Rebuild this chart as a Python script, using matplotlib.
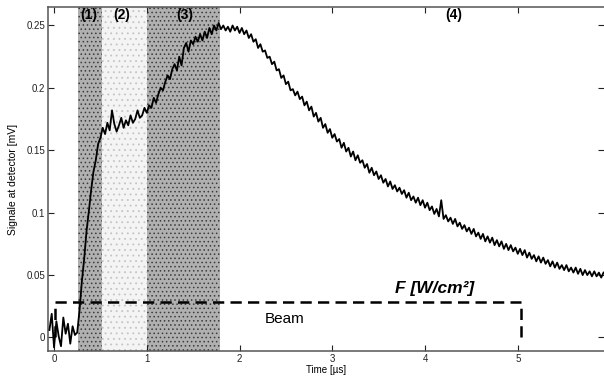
import numpy as np
import matplotlib
matplotlib.use("Agg")
import matplotlib.pyplot as plt

plt.rcParams["font.family"] = ["Liberation Sans", "DejaVu Sans"]

DT = 0.025
seg_pre = (-0.05, [0.006, 0.019, -0.008, 0.013, 0.001, -0.007, 0.016, 0.003,
                   0.011, -0.005, 0.009, 0.002])
seg_rise = (0.25, [0.004, 0.022, 0.045, 0.063, 0.085, 0.101, 0.118, 0.133,
                   0.142, 0.155, 0.160, 0.168, 0.163, 0.172, 0.166, 0.182,
                   0.171, 0.165, 0.170, 0.176, 0.168, 0.174, 0.170, 0.178,
                   0.172, 0.175, 0.182, 0.176, 0.178, 0.184])
seg_1us = (1.0, [0.180, 0.186, 0.184, 0.192, 0.188, 0.195, 0.200, 0.198,
                 0.205, 0.210, 0.207, 0.215, 0.219, 0.214, 0.225, 0.218,
                 0.232, 0.236, 0.229, 0.238, 0.235, 0.241, 0.237, 0.243,
                 0.238, 0.245, 0.240, 0.248, 0.243, 0.250, 0.246, 0.252,
                 0.247, 0.250, 0.246, 0.249, 0.245, 0.250, 0.246, 0.249])
seg_2us = (2.0, [0.244, 0.248, 0.243, 0.246, 0.240, 0.243, 0.237, 0.239,
                 0.232, 0.235, 0.229, 0.230, 0.224, 0.225, 0.219, 0.221,
                 0.214, 0.215, 0.208, 0.210, 0.203, 0.205, 0.198, 0.199,
                 0.194, 0.197, 0.191, 0.193, 0.186, 0.189, 0.182, 0.185,
                 0.177, 0.180, 0.173, 0.176, 0.168, 0.171, 0.164, 0.167])
seg_3us = (3.0, [0.160, 0.163, 0.157, 0.159, 0.152, 0.156, 0.149, 0.152,
                 0.145, 0.149, 0.142, 0.146, 0.140, 0.142, 0.136, 0.139,
                 0.132, 0.136, 0.130, 0.133, 0.127, 0.130, 0.124, 0.127,
                 0.121, 0.125, 0.119, 0.122, 0.117, 0.120, 0.115, 0.118,
                 0.112, 0.116, 0.110, 0.113, 0.108, 0.112, 0.106, 0.110])
seg_4us = (4.0, [0.104, 0.108, 0.102, 0.105, 0.099, 0.103, 0.097, 0.110,
                 0.095, 0.098, 0.093, 0.096, 0.091, 0.095, 0.089, 0.092,
                 0.087, 0.090, 0.085, 0.088, 0.083, 0.087, 0.081, 0.084,
                 0.079, 0.083, 0.077, 0.081, 0.076, 0.080, 0.074, 0.078,
                 0.073, 0.077, 0.071, 0.075, 0.070, 0.074, 0.069, 0.072])
seg_5us = (5.0, [0.067, 0.071, 0.066, 0.070, 0.064, 0.068, 0.063, 0.066,
                 0.061, 0.065, 0.060, 0.064, 0.059, 0.062, 0.057, 0.061,
                 0.056, 0.060, 0.055, 0.058, 0.054, 0.058, 0.053, 0.056,
                 0.052, 0.056, 0.051, 0.055, 0.050, 0.054, 0.050, 0.053,
                 0.049, 0.053, 0.049, 0.052, 0.048, 0.052])
segments = [seg_pre, seg_rise, seg_1us, seg_2us, seg_3us, seg_4us, seg_5us]

# phase boundaries [us] and labels
phase_edges = [0.26, 0.52, 1.0, 1.79]
phase_labels = ["(1)", "(2)", "(3)", "(4)"]
phase_label_x = [0.37, 0.73, 1.41, 4.31]

# beam pulse box
beam_start, beam_end, beam_level = 0.01, 5.03, 0.0285

xticks = [0, 1, 2, 3, 4, 5]
yticks = [0, 0.05, 0.1, 0.15, 0.2, 0.25]
ytick_labels = ["0", "0.05", "0.1", "0.15", "0.2", "0.25"]

t = np.concatenate([t0 + DT * np.arange(len(v)) for t0, v in segments])
sig = np.concatenate([np.asarray(v) for _, v in segments])

fig = plt.figure(figsize=(6.04, 3.79), dpi=100)
ax = fig.add_axes([0.0795, 0.074, 0.9205, 0.9075])

# stippled phase bands
plt.rcParams["hatch.linewidth"] = 0.6
ax.axvspan(phase_edges[0], phase_edges[1], facecolor="#b0b0b0",
           edgecolor="#3c3c3c", hatch="....", lw=0, zorder=0)
ax.axvspan(phase_edges[1], phase_edges[2], facecolor="#f4f4f4",
           edgecolor="#c4c4c4", hatch="...", lw=0, zorder=0)
ax.axvspan(phase_edges[2], phase_edges[3], facecolor="#b0b0b0",
           edgecolor="#3c3c3c", hatch="....", lw=0, zorder=0)

ax.plot(t, sig, color="black", lw=1.3, zorder=3)

# beam box
dash = dict(color="black", lw=1.8, ls=(0, (4.5, 2.5)), zorder=4)
ax.plot([beam_start, beam_end], [beam_level, beam_level], **dash)
ax.plot([beam_start, beam_start], [0, beam_level], **dash)
ax.plot([beam_end, beam_end], [0, beam_level], **dash)
ax.text(2.49, 0.0148, "Beam", fontsize=11, ha="center", va="center")
ax.text(4.1, 0.039, "F [W/cm\u00b2]", fontsize=12.5, fontweight="bold",
        fontstyle="italic", ha="center", va="center")

for lab, x in zip(phase_labels, phase_label_x):
    ax.text(x, 0.2585, lab, fontsize=10, fontweight="bold",
            ha="center", va="center", zorder=5)

ax.set_xlim(-0.065, 5.93)
ax.set_ylim(-0.0108, 0.2648)
ax.set_xticks(xticks)
ax.set_yticks(yticks)
ax.set_yticklabels(ytick_labels)
ax.tick_params(direction="in", length=4, width=0.8, labelsize=7,
               top=True, right=True, pad=2, colors="#222222")
ax.spines["right"].set_visible(False)
for s in ["left", "top", "bottom"]:
    ax.spines[s].set_color("#555555")
    ax.spines[s].set_linewidth(1.1)

ax.set_xlabel("Time [\u00b5s]", fontsize=7, labelpad=1)
ax.set_ylabel("Signale at detector [mV]", fontsize=7.5, labelpad=6)

fig.savefig("out.png", dpi=100)
